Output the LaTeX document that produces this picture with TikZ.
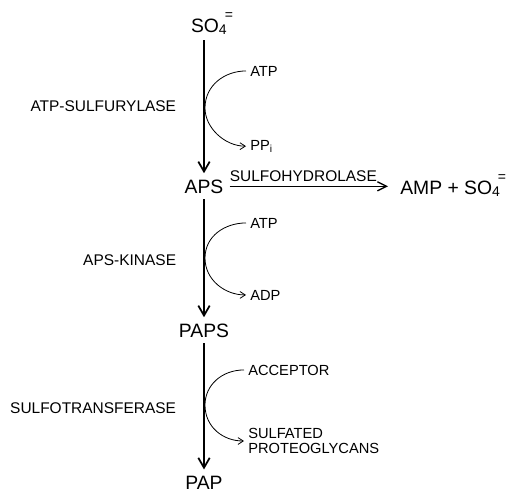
\documentclass[tikz,border=0pt]{standalone}
\usepackage{fontspec}
\setmainfont{Liberation Sans}
\usetikzlibrary{arrows.meta,positioning}
\tikzset{
  compound/.style={font=\fontsize{14.5}{17}\selectfont, inner sep=4.5pt},
  enzyme/.style={font=\fontsize{11.6}{14}\selectfont, inner sep=2pt},
  cofactor/.style={font=\fontsize{11}{11.2}\selectfont, inner sep=3pt, align=left},
  flow/.style={-{Straight Barb[length=2.6mm, width=3mm]}, line width=1.3pt},
  split/.style={-{Straight Barb[length=2.4mm, width=2.4mm]}, line width=1pt},
  link/.style={-{Straight Barb[length=1.4mm, width=1.8mm]}, line width=0.6pt},
}
\newcommand{\sulfate}{SO\raisebox{-0.2ex}{\fontsize{10.5}{12}\selectfont 4}\raisebox{1.25ex}{\kern-0.1em\fontsize{10.5}{12}\selectfont =}}

\begin{document}
\begin{tikzpicture}[x=0.75pt, y=-0.75pt]
  \useasboundingbox (0,0) rectangle (519,493);
  % compounds
  \node[compound, anchor=base] (so4) at (212,32) {\sulfate};
  \node[compound, anchor=base] (aps) at (204,193) {APS};
  \node[compound, anchor=base] (paps) at (204,337) {PAPS};
  \node[compound, anchor=base] (pap) at (204,489) {PAP};
  \node[compound, anchor=base west, inner xsep=9pt] (amp) at (388,194) {AMP + \sulfate};
  % enzymes
  \node[enzyme, anchor=base east] (sulfurylase) at (179,111) {ATP-SULFURYLASE};
  \node[enzyme, anchor=base east] (kinase) at (179,265) {APS-KINASE};
  \node[enzyme, anchor=base east] (transferase) at (179,413) {SULFOTRANSFERASE};
  \node[enzyme, anchor=south west, inner xsep=0pt, inner ysep=3pt] (hydrolase) at (aps.east) {SULFOHYDROLASE};
  % cofactors
  \node[cofactor, anchor=base west] (atpa) at (246,76) {ATP};
  \node[cofactor, anchor=base west] (ppi) at (246,150) {PP\textsubscript{i}};
  \node[cofactor, anchor=base west] (atpb) at (246,228) {ATP};
  \node[cofactor, anchor=base west] (adp) at (246,300) {ADP};
  \node[cofactor, anchor=base west] (acceptor) at (244,375) {ACCEPTOR};
  \node[cofactor, anchor=west] (sulfated) at (244,441) {SULFATED\\PROTEOGLYCANS};
  \coordinate (touch1) at (205,108);
  \coordinate (touch2) at (205,258);
  \coordinate (touch3) at (205,405);
  % main path
  \draw[flow] (so4.south -| aps.north) -- (aps.north);
  \draw[flow] (aps) -- (paps);
  \draw[flow] (paps) -- (pap);
  \draw[split] (aps.east) -- (aps.east -| amp.west);
  % side reactions
  \draw[link] (atpa.west) .. controls +(-21,0) and +(0,-23) .. (touch1)
    .. controls +(0,20) and +(-21,0) .. (ppi.west);
  \draw[link] (atpb.west) .. controls +(-21,0) and +(0,-22) .. (touch2)
    .. controls +(0,22) and +(-21,0) .. (adp.west);
  \draw[link] (acceptor.west) .. controls +(-22,0) and +(0,-20) .. (touch3)
    .. controls +(0,22) and +(-21,0) .. (sulfated.west);
\end{tikzpicture}
\end{document}
